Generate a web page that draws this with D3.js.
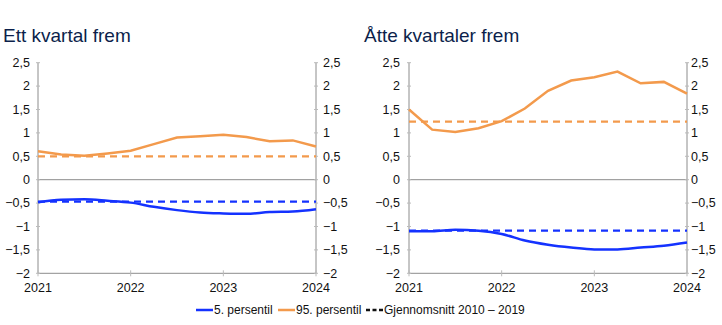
<!DOCTYPE html>
<html><head><meta charset="utf-8">
<script src="https://cdn.jsdelivr.net/npm/d3@7"></script>
<style>body{margin:0;background:#fff}svg{display:block;font-family:"Liberation Sans",Arial,sans-serif}</style>
</head><body><svg id="c" width="722" height="325"></svg>
<script>
const quarters = ["2021Q1","2021Q2","2021Q3","2021Q4","2022Q1","2022Q2","2022Q3","2022Q4","2023Q1","2023Q2","2023Q3","2023Q4","2024Q1"];
const xTickLabels = ["2021","2022","2023","2024"];
const yTicks = [2.5,2,1.5,1,0.5,0,-0.5,-1,-1.5,-2];
const titles = ["Ett kvartal frem","Åtte kvartaler frem"];
const p5_one = [-0.48,-0.43,-0.42,-0.45,-0.49,-0.58,-0.65,-0.70,-0.72,-0.73,-0.69,-0.68,-0.63];
const p95_one = [0.61,0.54,0.51,0.56,0.62,0.76,0.90,0.93,0.96,0.91,0.82,0.84,0.71];
const avg5_one = -0.47, avg95_one = 0.50;
const p5_eight = [-1.10,-1.10,-1.07,-1.09,-1.16,-1.30,-1.39,-1.45,-1.49,-1.49,-1.45,-1.41,-1.34];
const p95_eight = [1.50,1.07,1.02,1.10,1.25,1.52,1.90,2.12,2.19,2.31,2.06,2.09,1.84];
const avg5_eight = -1.09, avg95_eight = 1.24;
const legendLabels = ["5. persentil","95. persentil","Gjennomsnitt 2010 – 2019"];

const BLUE = "#1432ff", ORANGE = "#f39a4c", GRAY = "#8c8c8c";
const svg = d3.select("#c");
const panels = [
  {x0:38, x1:316, title:titles[0], p5:p5_one, p95:p95_one, a5:avg5_one, a95:avg95_one, tx:3, lx:30, rx:323},
  {x0:409, x1:687, title:titles[1], p5:p5_eight, p95:p95_eight, a5:avg5_eight, a95:avg95_eight, tx:364, lx:400, rx:691}
];
const y = d3.scaleLinear().domain([-2,2.5]).range([273.3,62.7]);
panels.forEach(p=>{
  const x = d3.scalePoint().domain(quarters).range([p.x0,p.x1]);
  const g = svg.append("g");
  g.append("text").attr("x",p.tx).attr("y",42).attr("font-size",19).attr("fill","#0c1f4b").text(p.title);
  g.append("line").attr("x1",p.x0).attr("x2",p.x0).attr("y1",y(2.5)).attr("y2",y(-2)).attr("stroke",GRAY);
  g.append("line").attr("x1",p.x1).attr("x2",p.x1).attr("y1",y(2.5)).attr("y2",y(-2)).attr("stroke",GRAY);
  g.append("line").attr("x1",p.x0).attr("x2",p.x1).attr("y1",y(-2)).attr("y2",y(-2)).attr("stroke",GRAY);
  g.append("line").attr("x1",p.x0).attr("x2",p.x1).attr("y1",y(0)).attr("y2",y(0)).attr("stroke",GRAY);
  yTicks.forEach(t=>{
    g.append("line").attr("x1",p.x0-2).attr("x2",p.x0+2).attr("y1",y(t)).attr("y2",y(t)).attr("stroke","#bbb");
    g.append("line").attr("x1",p.x1-2).attr("x2",p.x1+2).attr("y1",y(t)).attr("y2",y(t)).attr("stroke","#bbb");
    const lab = d3.format(".1~f")(t).replace(".",",").replace("-","−");
    g.append("text").attr("x",p.lx).attr("y",y(t)).attr("dy","0.35em").attr("text-anchor","end").attr("font-size",12.5).attr("fill","#111").text(lab);
    g.append("text").attr("x",p.rx).attr("y",y(t)).attr("dy","0.35em").attr("text-anchor","start").attr("font-size",12.5).attr("fill","#111").text(lab);
  });
  xTickLabels.forEach((l,i)=>{
    const xx = x(quarters[i*4]);
    g.append("line").attr("x1",xx).attr("x2",xx).attr("y1",y(-2)-3).attr("y2",y(-2)+3).attr("stroke","#bbb");
    g.append("text").attr("x",xx).attr("y",292).attr("text-anchor","middle").attr("font-size",12.5).attr("fill","#111").text(l);
  });
  g.append("line").attr("x1",p.x0).attr("x2",p.x1).attr("y1",y(p.a95)).attr("y2",y(p.a95)).attr("stroke",ORANGE).attr("stroke-width",2.2).attr("stroke-dasharray","7,5");
  g.append("line").attr("x1",p.x0).attr("x2",p.x1).attr("y1",y(p.a5)).attr("y2",y(p.a5)).attr("stroke",BLUE).attr("stroke-width",2.2).attr("stroke-dasharray","7,5");
  const lineO = d3.line().x((d,i)=>x(quarters[i])).y(d=>y(d));
  const lineB = d3.line().x((d,i)=>x(quarters[i])).y(d=>y(d)).curve(d3.curveMonotoneX);
  g.append("path").attr("d",lineO(p.p95)).attr("fill","none").attr("stroke",ORANGE).attr("stroke-width",2.5);
  g.append("path").attr("d",lineB(p.p5)).attr("fill","none").attr("stroke",BLUE).attr("stroke-width",2.5);
});
const lg = svg.append("g");
const ly = 310;
const items = [{x:196,c:BLUE,d:null,t:legendLabels[0]},{x:278,c:ORANGE,d:null,t:legendLabels[1]},{x:366,c:"#111",d:"4,2.5",t:legendLabels[2]}];
items.forEach(it=>{
  lg.append("line").attr("x1",it.x).attr("x2",it.x+17).attr("y1",ly).attr("y2",ly).attr("stroke",it.c).attr("stroke-width",2.5).attr("stroke-dasharray",it.d);
  lg.append("text").attr("x",it.x+18).attr("y",ly).attr("dy","0.35em").attr("font-size",12).attr("fill","#111").text(it.t);
});
</script></body></html>
